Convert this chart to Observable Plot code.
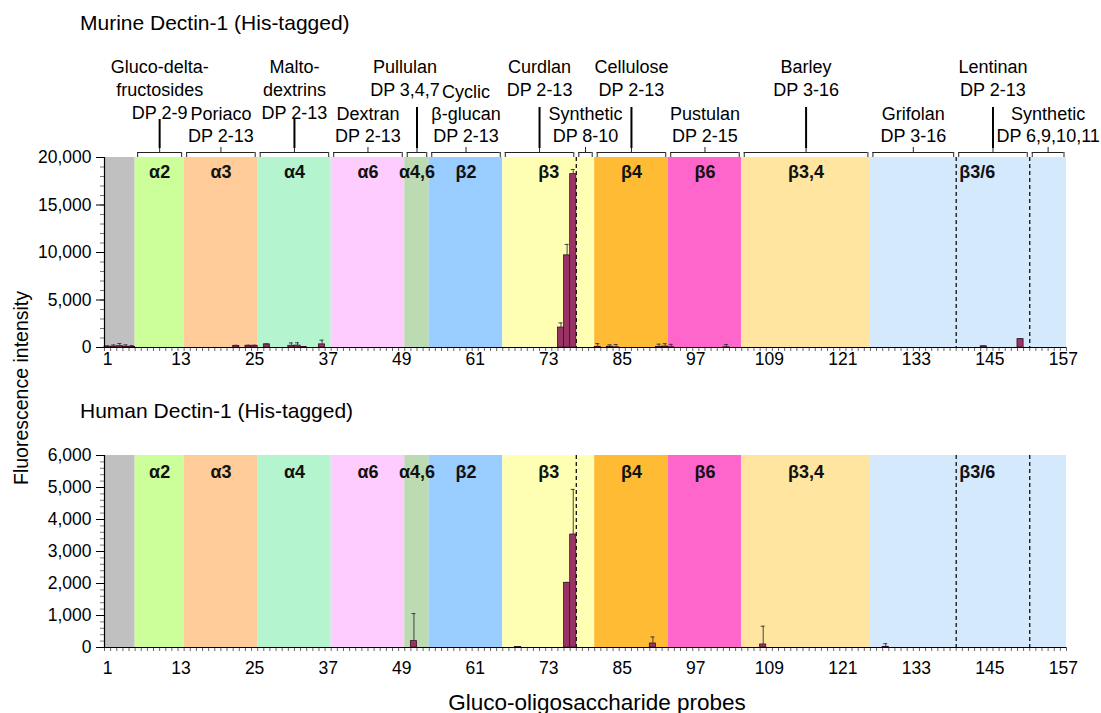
<!DOCTYPE html>
<html>
<head>
<meta charset="utf-8">
<script src="https://cdn.jsdelivr.net/npm/d3@7"></script>
<script src="https://cdn.jsdelivr.net/npm/@observablehq/plot@0.6"></script>
<style>
  html, body { margin: 0; padding: 0; background: #fff; }
  #chart { position: relative; width: 1101px; height: 713px; font-family: "Liberation Sans", Arial, sans-serif; color: #000; }
  #chart svg { position: absolute; left: 0; }
  .t { position: absolute; white-space: nowrap; line-height: 1; }
</style>
</head>
<body>
<div id="chart"></div>
<script>
// ---------------- data ----------------
const probeCount = 157;
const xTickLabels = [1, 13, 25, 37, 49, 61, 73, 85, 97, 109, 121, 133, 145, 157];

// linkage bands (background colours)
const bandLabels = ["", "α2", "α3", "α4", "α6", "α4,6", "β2", "β3", "β4", "β6", "β3,4", "β3/6"];
const bandFirst  = [1, 6, 14, 26, 38, 50, 54, 66, 81, 93, 105, 126];
const bandLast   = [5, 13, 25, 37, 49, 53, 65, 80, 92, 104, 125, 157];
const bandColors = ["#c0c0c0", "#ccff99", "#ffcc99", "#b4f5d0", "#ffccff", "#bddbb3",
                    "#99ccff", "#ffffb3", "#ffbb33", "#ff66cc", "#ffe5a0", "#d4eafc"];

// probe series (brackets + names)
const groupNames = ["Gluco-delta-\nfructosides", "Poriaco", "Malto-\ndextrins", "Dextran", "Pullulan",
                    "Cyclic\nβ-glucan", "Curdlan", "Synthetic", "Cellulose", "Pustulan", "Barley",
                    "Grifolan", "Lentinan", "Synthetic"];
const groupDP    = ["DP 2-9", "DP 2-13", "DP 2-13", "DP 2-13", "DP 3,4,7", "DP 2-13", "DP 2-13",
                    "DP 8-10", "DP 2-13", "DP 2-15", "DP 3-16", "DP 3-16", "DP 2-13", "DP 6,9,10,11"];
const groupFirst = [6, 14, 26, 38, 50, 54, 66, 78, 81, 93, 105, 126, 140, 152];
const groupLast  = [13, 25, 37, 49, 53, 65, 77, 80, 92, 104, 125, 139, 151, 157];

// dashed separators drawn after these probes
const separatorsAfter = [77, 139, 151];

// Murine Dectin-1 (His-tagged)
const murineProbe = [1, 2, 3, 4, 5, 22, 24, 25, 27, 31, 32, 33, 36, 75, 76, 77, 81, 83, 84, 91, 92, 93, 102, 144, 150];
const murineMean  = [60, 90, 140, 80, 60, 170, 180, 180, 330, 180, 200, 60, 330, 2100, 9700, 18250, 60, 80, 20, 50, 100, 30, 20, 130, 880];
const murineErr   = [120, 180, 280, 200, 150, 60, 60, 60, 50, 300, 300, 0, 440, 490, 1150, 490, 350, 200, 300, 300, 300, 300, 300, 20, 60];

// Human Dectin-1 (His-tagged)
const humanProbe = [51, 68, 76, 77, 90, 108, 128];
const humanMean  = [200, 15, 2020, 3530, 125, 95, 20];
const humanErr   = [860, 10, 15, 1410, 205, 570, 100];

// ---------------- build tables ----------------
const bands = bandLabels.map((label, i) => ({label, first: bandFirst[i], last: bandLast[i], color: bandColors[i]}));
const groups = groupNames.map((name, i) => ({name, dp: groupDP[i], first: groupFirst[i], last: groupLast[i], idx: i}));
const murine = murineProbe.map((p, i) => ({probe: p, mean: murineMean[i], err: murineErr[i]}));
const human = humanProbe.map((p, i) => ({probe: p, mean: humanMean[i], err: humanErr[i]}));

const FONT = "'Liberation Sans', Arial, sans-serif";
const mid = d => (d.first + d.last) / 2;
const boundaries = d3.range(0.5, probeCount + 1, 1);
const commaFmt = d3.format(",d");

function panel({bars, ymax, major, minor, height, marginTop, marginBottom, labelPad, bandDy, annotate}) {
  const marks = [
    Plot.rect(bands, {x1: d => d.first - 0.5, x2: d => d.last + 0.5, y1: 0, y2: ymax, fill: "color"}),
    Plot.ruleX(separatorsAfter, {x: d => d + 0.5, stroke: "#111", strokeWidth: 1.3, strokeDasharray: "4,3"}),
    Plot.text(bands.filter(b => b.label && b.label !== "β3/6"), {
      x: mid, text: "label", frameAnchor: "top", lineAnchor: "top", dy: bandDy, fontWeight: "bold", fontSize: 18, fill: "#111"
    }),
    Plot.text(bands.filter(b => b.label === "β3/6"), {
      x: () => separatorsAfter[1] + 0.5, text: "label", frameAnchor: "top", lineAnchor: "top", dy: bandDy, dx: 3,
      textAnchor: "start", fontWeight: "bold", fontSize: 18, fill: "#111"
    }),
    Plot.rectY(bars, {x1: d => d.probe - 0.5, x2: d => d.probe + 0.5, y: "mean",
      fill: "#993366", stroke: "#3d0f26", strokeWidth: 0.8}),
    Plot.ruleX(bars.filter(d => d.err > 0), {x: "probe", y1: "mean", y2: d => d.mean + d.err, stroke: "#333", strokeWidth: 0.9}),
    Plot.ruleY(bars.filter(d => d.err > 0), {y: d => d.mean + d.err, x1: "probe", x2: "probe",
      insetLeft: -2, insetRight: -2, stroke: "#333", strokeWidth: 0.9}),
    Plot.axisY(minor, {tickSize: 4, tickFormat: () => "", stroke: "#777", label: null}),
    Plot.axisY(major, {tickSize: 8, tickPadding: 5, tickFormat: commaFmt, fontSize: 17.5, label: null}),
    Plot.axisX(boundaries, {tickSize: 4, tickFormat: () => "", stroke: "#666", label: null}),
    Plot.axisX(xTickLabels, {tickSize: 0, tickPadding: labelPad, fontSize: 17.5, label: null}),
    Plot.ruleX([0.5], {stroke: "#000", strokeWidth: 1.2}),
    Plot.ruleY([0], {stroke: "#000", strokeWidth: 1.2})
  ];
  if (annotate) {
    const raised = groups.filter(g => g.idx % 2 === 0);
    const lowered = groups.filter(g => g.idx % 2 === 1);
    const txt = d => d.name + "\n" + d.dp;
    marks.push(
      Plot.text(raised.filter(g => g.name !== "Pullulan"), {x: mid, text: txt, frameAnchor: "top", lineAnchor: "top",
        dy: -101, fontSize: 18, lineHeight: 1.28, fill: "#000"}),
      Plot.text(raised.filter(g => g.name === "Pullulan"), {x: mid, text: txt, frameAnchor: "top", lineAnchor: "top",
        dy: -101, dx: -12, fontSize: 18, lineHeight: 1.28, fill: "#000"}),
      Plot.text(lowered, {x: mid, text: txt, frameAnchor: "top", lineAnchor: "bottom",
        dy: -16, fontSize: 18, lineHeight: 1.2, fill: "#000"}),
      // brackets
      Plot.ruleY(groups, {y: ymax, x1: d => d.first - 0.5, x2: d => d.last + 0.5, dy: -5,
        insetLeft: 2.5, insetRight: 2.5, stroke: "#222", strokeWidth: 1}),
      Plot.ruleX(groups, {x: d => d.first - 0.5, y1: ymax, y2: ymax, dx: 2.5, insetTop: -5, insetBottom: 0, stroke: "#222", strokeWidth: 1}),
      Plot.ruleX(groups, {x: d => d.last + 0.5, y1: ymax, y2: ymax, dx: -2.5, insetTop: -5, insetBottom: 0, stroke: "#222", strokeWidth: 1}),
      Plot.ruleX(groups, {x: mid, y1: ymax, y2: ymax, insetTop: -10, insetBottom: 5, stroke: "#222", strokeWidth: 1}),
      // leader lines
      Plot.ruleX(raised.filter(g => g.name.includes("\n")), {x: mid, y1: ymax, y2: ymax, insetTop: -38, insetBottom: 9, stroke: "#000", strokeWidth: 2}),
      Plot.ruleX(raised.filter(g => !g.name.includes("\n")), {x: mid, y1: ymax, y2: ymax, insetTop: -50, insetBottom: 9, stroke: "#000", strokeWidth: 2})
    );
  }
  return Plot.plot({
    width: 1101, height, marginLeft: 104, marginRight: 35, marginTop, marginBottom,
    x: {type: "linear", domain: [0.5, probeCount + 0.5]},
    y: {domain: [0, ymax]},
    color: {type: "identity"},
    style: {fontFamily: FONT, fontSize: "17px", background: "transparent", overflow: "visible", color: "#000"},
    marks
  });
}

const chart = document.getElementById("chart");

const murinePlot = panel({bars: murine, ymax: 20000, major: d3.range(0, 20001, 5000), minor: d3.range(0, 20001, 1000),
  height: 372, marginTop: 157, marginBottom: 25, labelPad: 5, bandDy: 8, annotate: true});
murinePlot.style.top = "0px";
chart.appendChild(murinePlot);

const humanPlot = panel({bars: human, ymax: 6000, major: d3.range(0, 6001, 1000), minor: d3.range(0, 6001, 200),
  height: 333, marginTop: 75, marginBottom: 66, labelPad: 14, bandDy: 10, annotate: false});
humanPlot.style.top = "380px";
chart.appendChild(humanPlot);

function addText(text, css) {
  const d = document.createElement("div");
  d.className = "t";
  d.textContent = text;
  Object.assign(d.style, css);
  chart.appendChild(d);
}
addText("Murine Dectin-1 (His-tagged)", {left: "80px", top: "12px", fontSize: "21px"});
addText("Human Dectin-1 (His-tagged)", {left: "80px", top: "400px", fontSize: "21px"});
addText("Fluorescence intensity", {left: "22px", top: "388px", fontSize: "19.5px", transform: "translate(-50%,-50%) rotate(-90deg)"});
addText("Gluco-oligosaccharide probes", {left: "597px", top: "703px", fontSize: "22.5px", transform: "translate(-50%,-50%)"});
</script>
</body>
</html>
